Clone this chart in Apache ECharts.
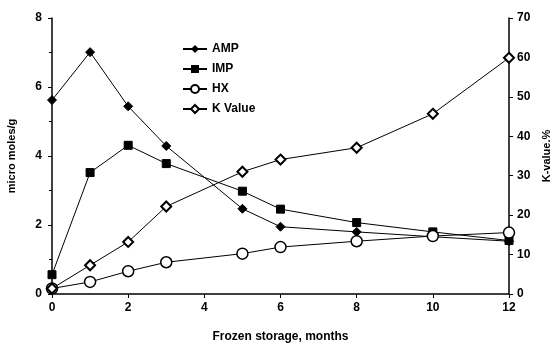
<!DOCTYPE html>
<html>
<head>
<meta charset="utf-8">
<script src="https://cdn.jsdelivr.net/npm/echarts@6/dist/echarts.min.js"></script>
<style>
  html, body { margin: 0; padding: 0; background: #fff; }
  #chart { width: 550px; height: 345px; }
</style>
</head>
<body>
<div id="chart"></div>
<script>
// months of frozen storage
var months = [0, 1, 2, 3, 5, 6, 8, 10, 12];

// micro moles/g (left axis)
var amp = [5.62, 7.01, 5.44, 4.29, 2.47, 1.95, 1.80, 1.66, 1.53];
var imp = [0.56, 3.52, 4.31, 3.78, 2.98, 2.46, 2.07, 1.80, 1.55];
var hx  = [0.16, 0.35, 0.66, 0.92, 1.17, 1.36, 1.53, 1.68, 1.78];

// K-value, % (right axis)
var kval = [1.4, 7.3, 13.2, 22.2, 31.0, 34.1, 37.1, 45.7, 59.9];

function pairs(ys) {
    var out = [];
    for (var i = 0; i < months.length; i++) {
        out.push([months[i], ys[i]]);
    }
    return out;
}

var font = 'Liberation Sans, Arial, sans-serif';
var lineStyle = {color: '#000', width: 1};

var myChart = echarts.init(document.getElementById('chart'));
var option = {
    backgroundColor: '#fff',
    animation: false,
    textStyle: {fontFamily: font, color: '#000'},
    grid: {left: 52, right: 41, top: 18, bottom: 51, containLabel: false, outerBoundsMode: 'none'},
    legend: {
        orient: 'vertical',
        left: 177,
        top: 38,
        itemWidth: 24,
        itemHeight: 10,
        itemGap: 8,
        textStyle: {fontFamily: font, fontWeight: 'bold', fontSize: 12, color: '#000'},
        data: ['AMP', 'IMP', 'HX', 'K Value']
    },
    xAxis: {
        type: 'value',
        min: 0,
        max: 12,
        interval: 2,
        name: 'Frozen storage, months',
        nameLocation: 'middle',
        nameGap: 37,
        nameTextStyle: {fontFamily: font, fontWeight: 'bold', fontSize: 12, color: '#000'},
        axisLine: {lineStyle: {color: '#000', width: 1.5}},
        axisTick: {inside: false, length: 4, lineStyle: {color: '#000'}},
        axisLabel: {fontFamily: font, fontWeight: 'bold', fontSize: 12, color: '#000', margin: 8},
        splitLine: {show: false}
    },
    yAxis: [
        {
            type: 'value',
            min: 0,
            max: 8,
            interval: 2,
            name: 'micro moles/g',
            nameLocation: 'middle',
            nameGap: 35,
            nameRotate: 90,
            nameTextStyle: {fontFamily: font, fontWeight: 'bold', fontSize: 11, color: '#000'},
            axisLine: {show: true, lineStyle: {color: '#000', width: 1.5}},
            axisTick: {length: 4, lineStyle: {color: '#000'}},
            minorTick: {show: true, splitNumber: 2, length: 3, lineStyle: {color: '#000'}},
            axisLabel: {fontFamily: font, fontWeight: 'bold', fontSize: 12, color: '#000', margin: 10},
            splitLine: {show: false}
        },
        {
            type: 'value',
            position: 'right',
            min: 0,
            max: 70,
            interval: 10,
            name: 'K-value,%',
            nameLocation: 'middle',
            nameGap: 32,
            nameRotate: 90,
            nameTextStyle: {fontFamily: font, fontWeight: 'bold', fontSize: 11, color: '#000'},
            axisLine: {show: true, lineStyle: {color: '#000', width: 1.5}},
            axisTick: {length: 4, lineStyle: {color: '#000'}},
            axisLabel: {fontFamily: font, fontWeight: 'bold', fontSize: 12, color: '#000', margin: 8},
            splitLine: {show: false}
        }
    ],
    series: [
        {
            name: 'AMP',
            type: 'line',
            yAxisIndex: 0,
            data: pairs(amp),
            symbol: 'diamond',
            symbolSize: 9,
            lineStyle: lineStyle,
            itemStyle: {color: '#000', borderColor: '#000'},
            z: 3
        },
        {
            name: 'IMP',
            type: 'line',
            yAxisIndex: 0,
            data: pairs(imp),
            symbol: 'rect',
            symbolSize: 8,
            lineStyle: lineStyle,
            itemStyle: {color: '#000', borderColor: '#000'},
            z: 3
        },
        {
            name: 'HX',
            type: 'line',
            yAxisIndex: 0,
            data: pairs(hx),
            symbol: 'circle',
            symbolSize: 11,
            lineStyle: lineStyle,
            itemStyle: {color: '#fff', borderColor: '#000', borderWidth: 1.5},
            z: 4
        },
        {
            name: 'K Value',
            type: 'line',
            yAxisIndex: 1,
            data: pairs(kval),
            symbol: 'diamond',
            symbolSize: 10,
            lineStyle: lineStyle,
            itemStyle: {color: '#fff', borderColor: '#000', borderWidth: 2},
            z: 4
        }
    ]
};
myChart.setOption(option);
</script>
</body>
</html>
